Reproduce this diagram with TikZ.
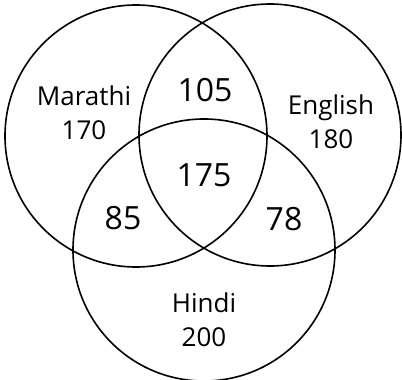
\documentclass[tikz,border=0pt]{standalone}
\usepackage{fontspec}
\setmainfont{Open Sans}
\usetikzlibrary{positioning}

\begin{document}
\begin{tikzpicture}[
  x=1pt, y=-1pt,
  ring/.style={draw, line width=1.6pt, circle, minimum size=262pt, inner sep=0pt},
  setlbl/.style={font=\fontsize{26}{34}\selectfont, align=center},
  cnt/.style={font=\fontsize{32}{34}\selectfont},
]
\useasboundingbox (0,0) rectangle (402,380);

% the three sets
\node[ring] (marathi) at (136,136) {};
\node[ring] (english) at (270,135) {};
\node[ring] (hindi)   at (204,250) {};

% set names with their own counts
\node[setlbl] (lblM) at (84,113)  {Marathi\\170};
\node[setlbl] (lblE) at (331,122) {English\\180};
\node[setlbl] (lblH) at (204,320) {Hindi\\200};

% overlaps
\node[cnt] (nME)  at (205,90)  {105};
\node[cnt] (nMEH) at (204,175) {175};
\node[cnt] (nMH)  at (123,218) {85};
\node[cnt] (nEH)  at (284,219) {78};

\end{tikzpicture}
\end{document}
